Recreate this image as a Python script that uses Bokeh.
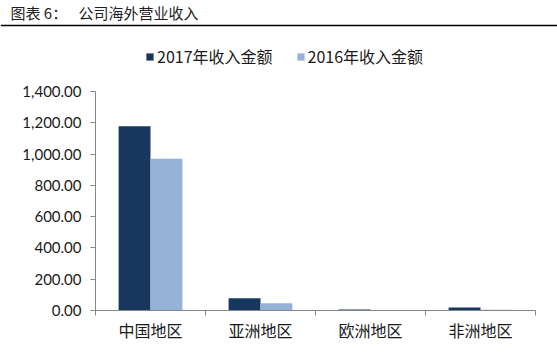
from bokeh.plotting import figure
from bokeh.models import (ColumnDataSource, Range1d, FixedTicker,
                          NumeralTickFormatter, Label, Legend, LegendItem, Span)
from bokeh.transform import dodge
from bokeh.embed import file_html
from bokeh.resources import INLINE

categories = ["中国地区", "亚洲地区", "欧洲地区", "非洲地区"]
rev_2017 = [1178, 79, 6, 19]
rev_2016 = [970, 47, 3, 5]
series_names = ["2017年收入金额", "2016年收入金额"]
y_ticks = [0, 200, 400, 600, 800, 1000, 1200, 1400]

C17 = "#17375E"
C16 = "#95B3D7"
AX = "#868686"
CJK = "Noto Sans CJK SC"

W, H = 557, 354
# plot-area geometry (pixels on the canvas)
PX_LEFT, PX_RIGHT, PX_TOP, PX_ZERO = 95, 535, 91, 310
Y_MAX = y_ticks[-1]

n = len(categories)
slot = (PX_RIGHT - PX_LEFT) / n
ppu = (PX_ZERO - PX_TOP) / Y_MAX
x_range = Range1d(-PX_LEFT / slot, (W - PX_LEFT) / slot)
y_range = Range1d(-(H - PX_ZERO) / ppu, PX_ZERO / ppu)

centers = [i + 0.5 for i in range(n)]          # category slot centres on the x scale
src = ColumnDataSource(dict(cat=categories, pos=centers, v17=rev_2017, v16=rev_2016))

p = figure(width=W, height=H, x_range=x_range, y_range=y_range,
           output_backend="svg", toolbar_location=None,
           min_border=0, min_border_left=0, min_border_right=0,
           min_border_top=0, min_border_bottom=0)
p.outline_line_color = None
p.xgrid.visible = False
p.ygrid.visible = False
p.background_fill_color = "white"
p.border_fill_color = "white"

r17 = p.vbar(x=dodge("pos", -0.145), top="v17", width=0.29,
             source=src, fill_color=C17, line_color=None)
r16 = p.vbar(x=dodge("pos", 0.145), top="v16", width=0.29,
             source=src, fill_color=C16, line_color=None)

# y axis
ya = p.yaxis[0]
ya.fixed_location = 0
ya.bounds = (0, Y_MAX)
ya.ticker = FixedTicker(ticks=y_ticks)
ya.formatter = NumeralTickFormatter(format="0,0.00")
ya.axis_line_color = AX
ya.major_tick_line_color = AX
ya.major_tick_in = 0
ya.major_tick_out = 5
ya.minor_tick_line_color = None
ya.major_label_standoff = 9
ya.major_label_text_font = "Lato"
ya.major_label_text_font_size = "15px"
ya.major_label_text_color = "#1a1a1a"

# x axis: category names at slot centres, ticks at slot boundaries
xa = p.xaxis[0]
xa.fixed_location = 0
xa.bounds = (0, n)
xa.ticker = FixedTicker(ticks=centers, minor_ticks=list(range(n + 1)))
xa.major_label_overrides = {c: name for c, name in zip(centers, categories)}
xa.axis_line_color = AX
xa.major_tick_line_color = None
xa.minor_tick_line_color = AX
xa.minor_tick_in = 0
xa.minor_tick_out = 5
xa.major_label_standoff = 1
xa.major_label_text_font = CJK
xa.major_label_text_font_size = "16px"
xa.major_label_text_color = "#1a1a1a"

# legend
legend = Legend(items=[LegendItem(label=series_names[0], renderers=[r17]),
                       LegendItem(label=series_names[1], renderers=[r16])],
                orientation="horizontal", location=(145, H - 68),
                glyph_width=9, glyph_height=9, label_height=16, label_standoff=3,
                spacing=23, padding=0, margin=0, border_line_color=None,
                background_fill_alpha=0, label_text_font=CJK,
                label_text_font_size="16px", label_text_color="#1a1a1a")
p.add_layout(legend, "center")

# title and rule
p.add_layout(Label(x=10, y=H - 12, x_units="screen", y_units="screen", text="图表 6：",
                   text_font=CJK, text_font_size="15px", text_baseline="middle",
                   text_color="#222222"))
p.add_layout(Label(x=78, y=H - 12, x_units="screen", y_units="screen", text="公司海外营业收入",
                   text_font=CJK, text_font_size="15px", text_baseline="middle",
                   text_color="#222222"))
p.add_layout(Span(location=H - 25, location_units="screen", dimension="width",
                  line_color="black", line_width=1.5))

open("out.html", "w").write(file_html(p, INLINE))
